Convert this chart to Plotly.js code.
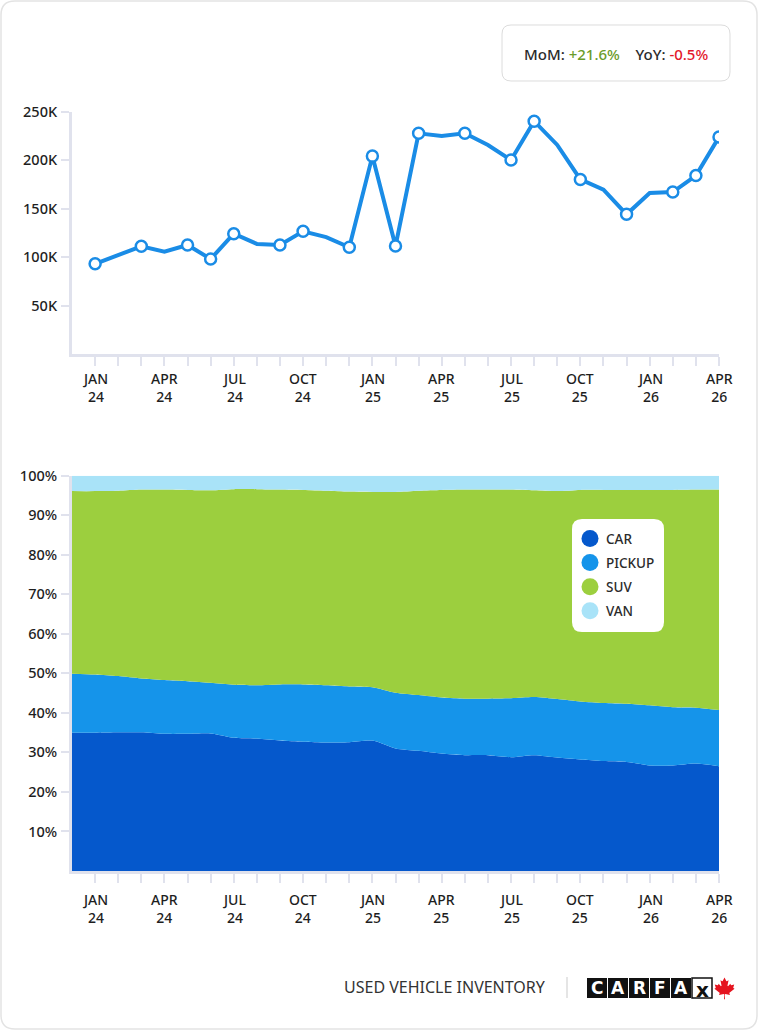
<!DOCTYPE html>
<html>
<head>
<meta charset="utf-8">
<script src="https://cdn.plot.ly/plotly-3.0.1.min.js"></script>
<style>
  html, body { margin: 0; padding: 0; background: #ffffff; }
  #chart { width: 758px; height: 1030px; }
</style>
</head>
<body>
<div id="chart"></div>
<script>
// Month labels, DEC 23 through APR 26
const months = [
  'DEC 23',
  'JAN 24','FEB 24','MAR 24','APR 24','MAY 24','JUN 24','JUL 24','AUG 24','SEP 24','OCT 24','NOV 24','DEC 24',
  'JAN 25','FEB 25','MAR 25','APR 25','MAY 25','JUN 25','JUL 25','AUG 25','SEP 25','OCT 25','NOV 25','DEC 25',
  'JAN 26','FEB 26','MAR 26','APR 26'
];

// Used vehicle inventory (units)
const inventory = [
  null,
  93000, 102000, 111000, 105500, 112400, 97900, 124000, 113500, 112400, 126500, 120500, 110000,
  204000, 111300, 227500, 224800, 227500, 215500, 200000, 240000, 215500, 180000, 169500, 144000,
  166000, 167000, 184000, 223700
];

// Months shown with a point marker on the inventory line
const markedMonths = [
  'JAN 24','MAR 24','MAY 24','JUN 24','JUL 24','SEP 24','OCT 24','DEC 24',
  'JAN 25','FEB 25','MAR 25','MAY 25','JUL 25','AUG 25','OCT 25','DEC 25',
  'FEB 26','MAR 26','APR 26'
];

// Inventory mix by body type (% share)
const segments = ['CAR', 'PICKUP', 'SUV', 'VAN'];
const carShare = [35.0,35.0,35.1,35.1,34.7,34.7,34.8,33.7,33.5,33.0,32.7,32.5,32.6,33.0,31.0,30.4,29.7,29.3,29.3,28.8,29.3,28.7,28.2,27.8,27.6,26.7,26.7,27.2,26.5];
const pickupShare = [14.9,14.7,14.2,13.6,13.6,13.3,12.8,13.4,13.5,14.2,14.5,14.5,14.1,13.5,14.1,14.1,14.2,14.3,14.3,14.9,14.7,14.8,14.7,14.7,14.7,15.2,14.7,14.1,14.2];
const suvShare = [46.2,46.4,46.9,47.8,48.2,48.4,48.7,49.5,49.6,49.3,49.2,49.2,49.3,49.4,50.8,51.7,52.5,52.9,52.9,52.8,52.3,52.6,53.5,53.9,54.1,54.5,55.0,55.2,55.8];
const vanShare = [3.9,3.9,3.8,3.5,3.5,3.6,3.7,3.4,3.4,3.5,3.6,3.8,4.0,4.1,4.1,3.8,3.6,3.5,3.5,3.5,3.7,3.9,3.6,3.6,3.6,3.6,3.6,3.5,3.5];

const invTicks = [50000, 100000, 150000, 200000, 250000];
const invTickText = ['50K', '100K', '150K', '200K', '250K'];
const shareTicks = [10, 20, 30, 40, 50, 60, 70, 80, 90, 100];
const shareTickText = ['10%', '20%', '30%', '40%', '50%', '60%', '70%', '80%', '90%', '100%'];

const footerTitle = 'USED VEHICLE INVENTORY';
const brandLetters = ['C', 'A', 'R', 'F', 'A', 'x'];

// ---- page geometry helpers (figure has zero margins, so paper = page) ----
const W = 758, H = 1030;
const fx = x => x / W;
const fy = y => 1 - y / H;
const P = (x, y) => fx(x).toFixed(5) + ',' + fy(y).toFixed(5);
function roundRect(x0, y0, x1, y1, r) {
  return 'M' + P(x0 + r, y0) + ' L' + P(x1 - r, y0) + ' Q' + P(x1, y0) + ' ' + P(x1, y0 + r) +
         ' L' + P(x1, y1 - r) + ' Q' + P(x1, y1) + ' ' + P(x1 - r, y1) +
         ' L' + P(x0 + r, y1) + ' Q' + P(x0, y1) + ' ' + P(x0, y1 - r) +
         ' L' + P(x0, y0 + r) + ' Q' + P(x0, y0) + ' ' + P(x0 + r, y0) + ' Z';
}

const FONT = 'Noto Sans, Open Sans, sans-serif';
const TEXT = '#1e1e1e';
const AXIS = '#e0e2ed';
const LINE_BLUE = '#1a8ce6';
const COLORS = { CAR: '#0558cc', PICKUP: '#1594ea', SUV: '#9ccf3e', VAN: '#a9e3f8' };

const xIdx = months.map((m, i) => i);
const labelled = xIdx.filter(i => i >= 1 && (i - 1) % 3 === 0);

// ---- traces ----
const marked = months.map(m => markedMonths.includes(m));
const invTrace = {
  x: xIdx, y: inventory, xaxis: 'x', yaxis: 'y',
  type: 'scatter', mode: 'lines+markers', connectgaps: false,
  line: { color: LINE_BLUE, width: 4 },
  marker: {
    size: marked.map(k => k ? 11 : 0),
    color: '#ffffff',
    opacity: 1,
    line: { color: LINE_BLUE, width: marked.map(k => k ? 2.5 : 0) }
  },
  hoverinfo: 'skip', showlegend: false
};

const shareSeries = [carShare, pickupShare, suvShare, vanShare];
const shareTraces = segments.map((name, k) => ({
  x: xIdx, y: shareSeries[k], name: name, xaxis: 'x2', yaxis: 'y2',
  type: 'scatter', mode: 'lines', stackgroup: 'mix',
  line: { width: 0, shape: 'spline', smoothing: 0.7 },
  fillcolor: COLORS[name],
  hoverinfo: 'skip', showlegend: false
}));

// ---- axes ----
const xBase = {
  range: [0, 28], tickvals: xIdx.slice(1), ticktext: xIdx.slice(1).map(() => ''),
  ticks: 'outside', ticklen: 9, tickwidth: 2, tickcolor: AXIS,
  showline: true, linecolor: AXIS, linewidth: 3,
  showgrid: false, zeroline: false, fixedrange: true
};
const yBase = {
  ticks: 'outside', ticklen: 8, tickwidth: 2, tickcolor: AXIS,
  showline: true, linecolor: AXIS, linewidth: 3,
  showgrid: false, zeroline: false, fixedrange: true,
  tickfont: { family: FONT, size: 14.5, color: TEXT, weight: 500 }, ticklabelstandoff: 1
};

const layout = {
  width: W, height: H,
  margin: { l: 0, r: 0, t: 0, b: 0 },
  paper_bgcolor: '#ffffff', plot_bgcolor: 'rgba(0,0,0,0)',
  showlegend: false,
  font: { family: FONT, color: TEXT },
  xaxis: Object.assign({}, xBase, { domain: [fx(72), fx(719)], anchor: 'y' }),
  yaxis: Object.assign({}, yBase, { domain: [fy(354), fy(111.5)], range: [0, 250000], tickvals: invTicks, ticktext: invTickText, anchor: 'x' }),
  xaxis2: Object.assign({}, xBase, { domain: [fx(72), fx(719)], anchor: 'y2' }),
  yaxis2: Object.assign({}, yBase, { domain: [fy(871), fy(475.7)], range: [0, 100], tickvals: shareTicks, ticktext: shareTickText, anchor: 'x2' }),
  shapes: [], annotations: []
};

// Two-line month / year labels under each quarter tick
labelled.forEach(i => {
  const [mon, yr] = months[i].split(' ');
  [['x', 388], ['x2', 908]].forEach(([ref, yc]) => {
    layout.annotations.push({ xref: ref, yref: 'paper', x: i, y: fy(yc), text: mon + '<br>' + yr, showarrow: false,
      xanchor: 'center', yanchor: 'middle', font: { family: FONT, size: 14, color: TEXT, weight: 500 } });
  });
});

// Card outline
layout.shapes.push({ type: 'path', xref: 'paper', yref: 'paper', path: roundRect(1, 1, 757, 1029, 14),
  line: { color: '#e3e3e3', width: 1.5 }, fillcolor: 'rgba(0,0,0,0)', layer: 'below' });

// Month-over-month / year-over-year summary box
const last = inventory.length - 1;
const mom = (inventory[last] / inventory[last - 1] - 1) * 100;
const yoy = (inventory[last] / inventory[last - 12] - 1) * 100;
const fmt = v => (v >= 0 ? '+' : '') + v.toFixed(1) + '%';
layout.shapes.push({ type: 'path', xref: 'paper', yref: 'paper', path: roundRect(502, 25, 730, 81, 9),
  line: { color: '#dcdcdc', width: 1 }, fillcolor: '#ffffff' });
layout.annotations.push({ xref: 'paper', yref: 'paper', x: fx(616), y: fy(53.5), xanchor: 'center', yanchor: 'middle',
  showarrow: false, font: { family: FONT, size: 15, color: '#2b2b2b', weight: 500 },
  text: 'MoM: <span style="color:' + (mom >= 0 ? '#6a9b2a' : '#e3182b') + '">' + fmt(mom) + '</span>' +
        '&nbsp;&nbsp;&nbsp;&nbsp;YoY: <span style="color:' + (yoy >= 0 ? '#6a9b2a' : '#e3182b') + '">' + fmt(yoy) + '</span>' });

// Legend panel for the mix chart
layout.shapes.push({ type: 'path', xref: 'paper', yref: 'paper', path: roundRect(572, 519, 664, 632, 10),
  line: { width: 0 }, fillcolor: '#ffffff' });
segments.forEach((name, k) => {
  const cy = 538.5 + k * 24.1;
  layout.shapes.push({ type: 'circle', xref: 'paper', yref: 'paper',
    x0: fx(581.5), x1: fx(598.5), y0: fy(cy + 8.5), y1: fy(cy - 8.5),
    line: { width: 0 }, fillcolor: COLORS[name] });
  layout.annotations.push({ xref: 'paper', yref: 'paper', x: fx(604), y: fy(cy), xanchor: 'left', yanchor: 'middle',
    showarrow: false, text: name, font: { family: FONT, size: 13.5, color: '#2b2b2b', weight: 500 } });
});

// Footer: title, divider, brand mark
layout.annotations.push({ xref: 'paper', yref: 'paper', x: fx(548), y: fy(987), xanchor: 'right', yanchor: 'middle',
  showarrow: false, text: footerTitle, font: { family: FONT, size: 16, color: '#333333' } });
layout.shapes.push({ type: 'line', xref: 'paper', yref: 'paper', x0: fx(567), x1: fx(567), y0: fy(977), y1: fy(998),
  line: { color: '#dddddd', width: 1.5 } });
brandLetters.forEach((ch, i) => {
  const x0 = 587 + i * 21, x1 = x0 + 20;
  const isLast = i === brandLetters.length - 1;
  layout.shapes.push({ type: 'rect', xref: 'paper', yref: 'paper', x0: fx(x0), x1: fx(x1), y0: fy(998), y1: fy(978),
    fillcolor: isLast ? '#ffffff' : '#111111', line: { color: '#111111', width: isLast ? 1.5 : 0 } });
  layout.annotations.push({ xref: 'paper', yref: 'paper', x: fx((x0 + x1) / 2), y: fy(isLast ? 989.5 : 988),
    xanchor: 'center', yanchor: 'middle', showarrow: false, text: '<b>' + ch + '</b>',
    font: { family: 'DejaVu Sans, Liberation Sans, sans-serif', size: isLast ? 20 : 17, color: isLast ? '#111111' : '#ffffff' } });
});

// Maple leaf outline (flag proportions), scaled beside the brand mark
const LEAF = [[4890,4430],[4845,3567],[4956,3469],[5815,3620],[5699,3300],[5719,3227],[6660,2465],[6448,2366],
  [6414,2287],[6600,1715],[6058,1830],[5985,1792],[5880,1545],[5457,1999],[5346,1942],[5550,890],[5223,1079],
  [5132,1052],[4800,400],[4468,1052],[4377,1079],[4050,890],[4254,1942],[4143,1999],[3720,1545],[3615,1792],
  [3542,1830],[3000,1715],[3186,2287],[3152,2366],[2940,2465],[3881,3227],[3901,3300],[3785,3620],[4644,3469],
  [4755,3567],[4710,4430]];
const ls = 0.0054;
const leafPath = LEAF.map((p, i) => (i ? 'L' : 'M') + P(724.5 + (p[0] - 4800) * ls, 977.5 + (p[1] - 400) * ls)).join(' ') + ' Z';
layout.shapes.push({ type: 'path', xref: 'paper', yref: 'paper', path: leafPath, line: { width: 0 }, fillcolor: '#e5141f' });

Plotly.newPlot('chart', [invTrace].concat(shareTraces), layout, { staticPlot: true, displayModeBar: false });
</script>
</body>
</html>
